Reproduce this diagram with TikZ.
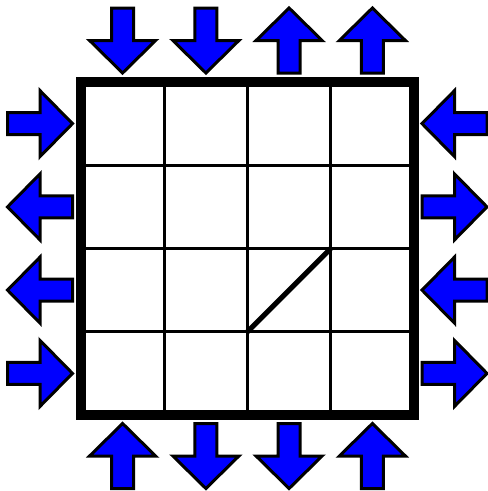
\documentclass[tikz,border=0pt]{standalone}
\begin{document}
\begin{tikzpicture}[x=1pt,y=-1pt,
  arrowbody/.style={fill={rgb,255:red,0;green,0;blue,255},draw=black,line width=3pt,line join=miter},
  gridline/.style={line width=3pt},
  pics/arr/.style={code={
    \path[arrowbody] (-32.5,-11) -- (0,-11) -- (0,-33) -- (32.5,0) -- (0,33) -- (0,11) -- (-32.5,11) -- cycle;
  }}]
\useasboundingbox (0,0) rectangle (488,491);
\fill[white] (0,0) rectangle (488,491);
% grid
\foreach \i in {1,2,3} {
  \draw[gridline] (81+83.25*\i,82) -- (81+83.25*\i,415);
  \draw[gridline] (81,82+83.25*\i) -- (414,82+83.25*\i);
}
\draw[line width=10.5pt] (81,82) rectangle (414,415);
\draw[line width=5pt] (247.5,331.75) -- (330.75,248.5);
% top arrows
\pic[rotate=270] at (122.6,40.5) {arr};
\pic[rotate=270] at (205.9,40.5) {arr};
\pic[rotate=90] at (289.1,40.5) {arr};
\pic[rotate=90] at (372.4,40.5) {arr};
% bottom arrows
\pic[rotate=90] at (122.6,456) {arr};
\pic[rotate=270] at (205.9,456) {arr};
\pic[rotate=270] at (289.1,456) {arr};
\pic[rotate=90] at (372.4,456) {arr};
% left arrows
\pic[rotate=0] at (40,123.6) {arr};
\pic[rotate=180] at (40,206.9) {arr};
\pic[rotate=180] at (40,290.1) {arr};
\pic[rotate=0] at (40,373.4) {arr};
% right arrows
\pic[rotate=180] at (454.5,123.6) {arr};
\pic[rotate=0] at (454.5,206.9) {arr};
\pic[rotate=180] at (454.5,290.1) {arr};
\pic[rotate=0] at (454.5,373.4) {arr};
\end{tikzpicture}
\end{document}
